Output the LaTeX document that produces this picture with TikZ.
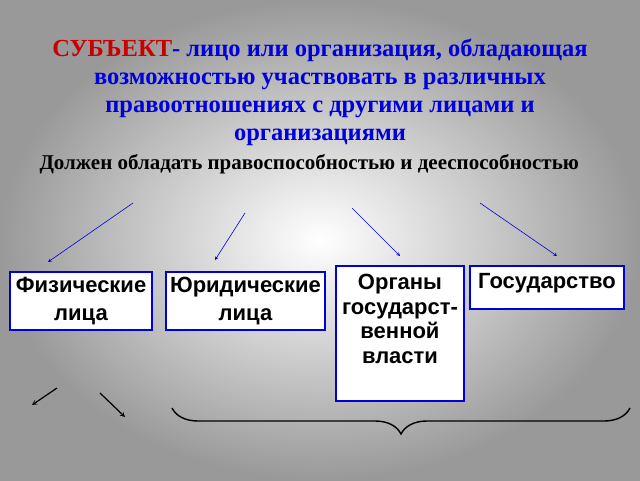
\documentclass[tikz,border=0pt]{standalone}
\usepackage{fontspec}
\setmainfont{Liberation Serif}
\newfontfamily\arial{Liberation Sans}
\usetikzlibrary{decorations.pathreplacing}
\definecolor{tblue}{RGB}{0,0,220}
\definecolor{tred}{RGB}{200,0,0}
\begin{document}
\begin{tikzpicture}[x=1pt,y=-1pt,
  bx/.style={draw=tblue,line width=2.2pt,fill=white,inner sep=0pt,align=center,font=\arial\fontsize{22}{28}\selectfont\bfseries},
  ba/.style={draw=tblue,->,>=stealth,line width=0.6pt},
  ka/.style={draw=black,->,>=stealth,line width=1.2pt}]
\useasboundingbox (0,0) rectangle (640,480);
\shade[inner color=white,outer color=gray!80] (0,0) rectangle (640,480);
\node[align=center,font=\fontsize{24.5}{28}\selectfont\bfseries,text=tblue] (title) at (320,92)
 {\textcolor{tred}{СУБЪЕКТ}- лицо или организация, обладающая\\ возможностью участвовать в различных\\ правоотношениях с другими лицами и\\ организациями};
\node[anchor=west,font=\fontsize{21}{24}\selectfont\bfseries] (sub) at (36,164) {Должен обладать правоспособностью и дееспособностью};
\node[bx,minimum width=142,minimum height=58] (f) at (81,301) {Физические\\лица};
\node[bx,minimum width=159,minimum height=58] (u) at (245.5,301) {Юридические\\лица};
\node[bx,minimum width=128,minimum height=135,anchor=north] (o) at (400,265) {};
\node[align=center,anchor=north,font=\arial\fontsize{22}{24.5}\selectfont\bfseries] (ot) at (400,271) {Органы\\государст-\\венной\\власти};
\node[bx,minimum width=154,minimum height=43,anchor=north] (g) at (547,265) {};
\node[anchor=north,font=\arial\fontsize{22}{26}\selectfont\bfseries] (gt) at (547,270) {Государство};
\coordinate (a1) at (133,203); \coordinate (b1) at (48,262);
\coordinate (a2) at (245,213); \coordinate (b2) at (215,260);
\coordinate (a3) at (352,208); \coordinate (b3) at (400,256);
\coordinate (a4) at (480,203); \coordinate (b4) at (557,256);
\draw[ba] (a1)--(b1); \draw[ba] (a2)--(b2); \draw[ba] (a3)--(b3); \draw[ba] (a4)--(b4);
\coordinate (k1) at (57,388); \coordinate (l1) at (32,405);
\coordinate (k2) at (100,393); \coordinate (l2) at (125,417);
\draw[ka] (k1)--(l1); \draw[ka] (k2)--(l2);
\coordinate (br1) at (630,408); \coordinate (br2) at (172,408);
\draw[line width=1.4pt,decorate,decoration={brace,amplitude=26pt}] (br1)--(br2);
\end{tikzpicture}
\end{document}
